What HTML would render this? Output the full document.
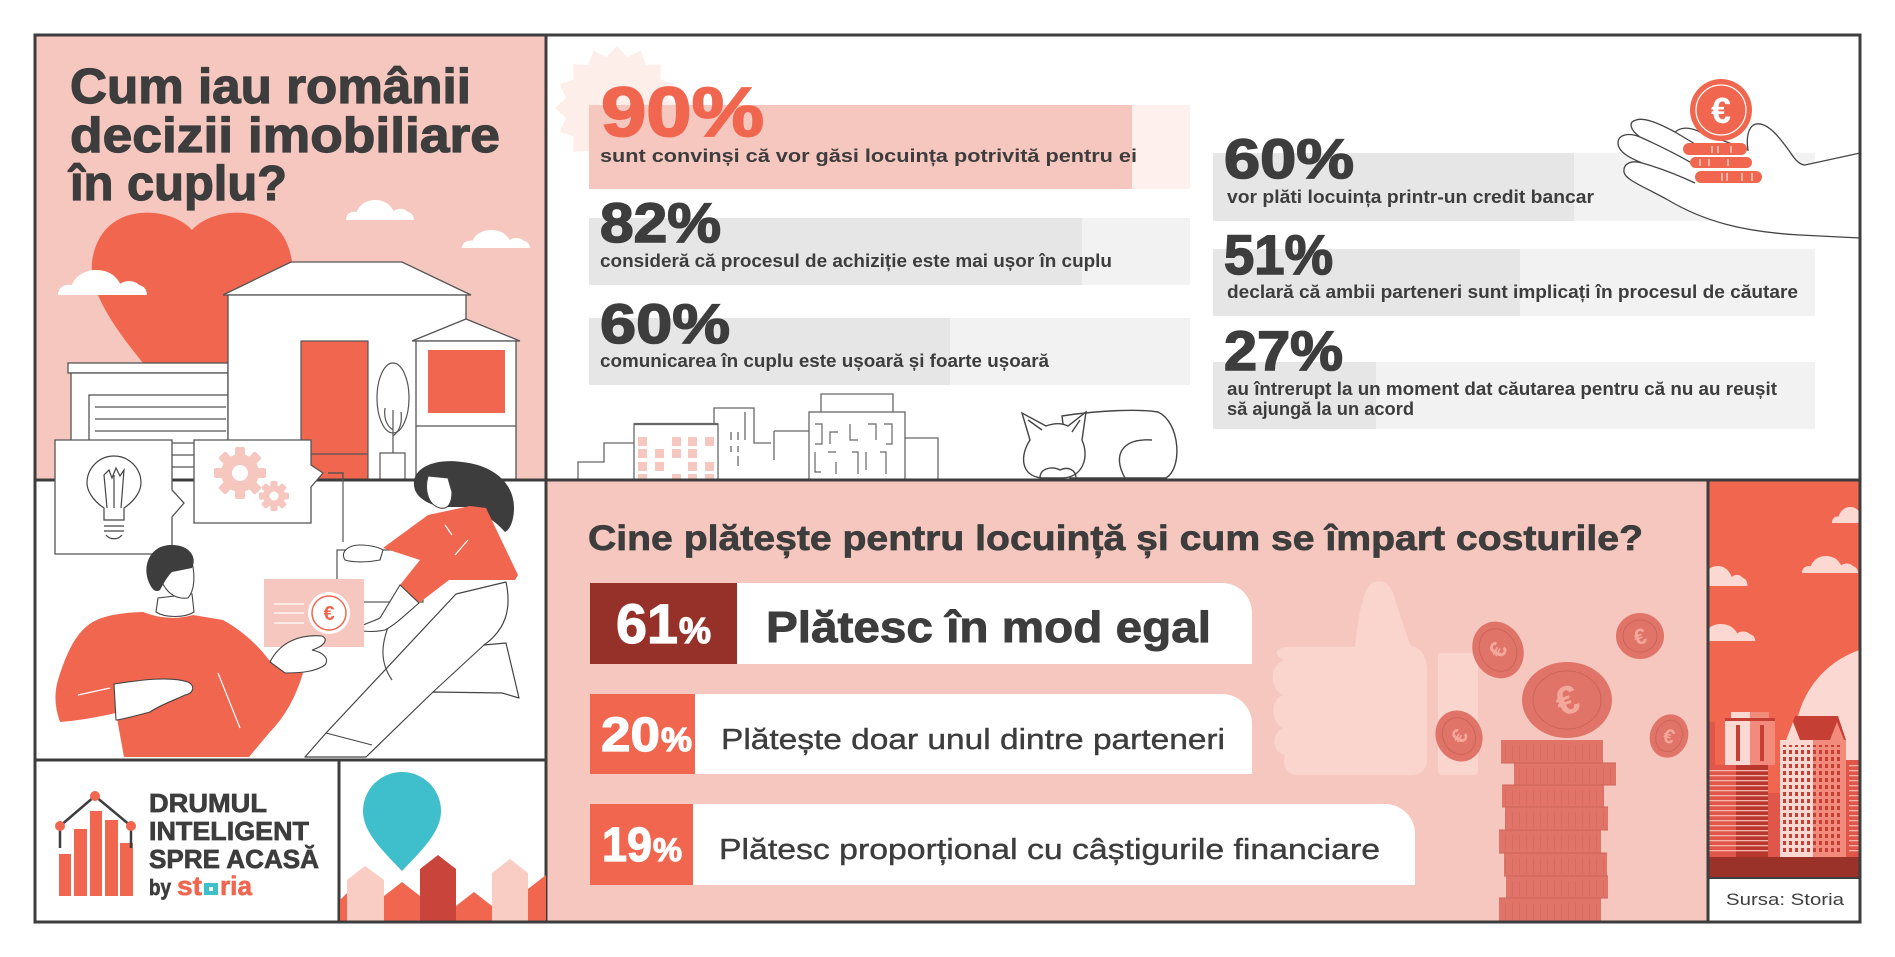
<!DOCTYPE html>
<html><head><meta charset="utf-8"><style>
html,body{margin:0;padding:0;background:#fff;}
svg{display:block;}
text{font-family:"Liberation Sans",Arial,sans-serif;}
</style></head><body>
<svg xmlns="http://www.w3.org/2000/svg" width="1895" height="957" viewBox="0 0 1895 957">
<defs>
<path id="cl" d="M0,20 C0,14 5,11 11,12 C14,4 22,0 30,0 C40,0 46,5 49,11 C53,8 60,8 64,12 C68,13 70,16 70,20 Z"/>
<clipPath id="strip"><rect x="1708" y="480" width="152" height="398"/></clipPath>
<clipPath id="tl"><rect x="35" y="35" width="511" height="445"/></clipPath>
<pattern id="win" width="6" height="7" patternUnits="userSpaceOnUse"><rect x="1" y="1" width="3" height="4" fill="#c63f35"/></pattern>
<pattern id="str" width="4" height="5" patternUnits="userSpaceOnUse"><rect width="4" height="1.3" fill="#f6b3a8"/></pattern>
<pattern id="coinl" width="7" height="30" patternUnits="userSpaceOnUse"><rect width="1" height="30" fill="#d4675b"/></pattern>
</defs>
<rect width="1895" height="957" fill="#fff"/>

<!-- ============ TOP LEFT PANEL ============ -->
<rect x="35" y="35" width="511" height="445" fill="#f6c7bf"/>
<g fill="#3d3d3d" stroke="#3d3d3d" stroke-width="1.2" font-weight="700" font-size="49">
<text x="70" y="103" textLength="401" lengthAdjust="spacingAndGlyphs">Cum iau românii</text>
<text x="70" y="152" textLength="430" lengthAdjust="spacingAndGlyphs">decizii imobiliare</text>
<text x="70" y="200" textLength="217" lengthAdjust="spacingAndGlyphs">în cuplu?</text>
</g>
<g clip-path="url(#tl)">
<use href="#cl" fill="#fff" transform="translate(346,200) scale(0.97,1)"/>
<use href="#cl" fill="#fff" transform="translate(462,230) scale(0.97,0.9)"/>
<path d="M192,230 C170,205 100,200 92,262 C88,300 130,350 192,420 C254,350 296,300 292,262 C284,200 214,205 192,230 Z" fill="#f0664f"/>
<use href="#cl" fill="#fff" transform="translate(58,270) scale(1.27,1.25)"/>
<g stroke="#555" stroke-width="1.3" fill="#fff">
<rect x="68" y="363" width="160" height="10"/>
<rect x="71" y="373" width="157" height="110"/>
<rect x="89" y="395" width="139" height="90"/>
<line x1="95" y1="407" x2="226" y2="407"/>
<line x1="95" y1="419" x2="226" y2="419"/>
<line x1="95" y1="431" x2="226" y2="431"/>
<line x1="95" y1="443" x2="226" y2="443"/>
<line x1="95" y1="455" x2="226" y2="455"/>
<line x1="95" y1="467" x2="226" y2="467"/>
<polygon points="223,295 291,262 402,262 471,295"/>
<rect x="228" y="295" width="238" height="190"/>
<polygon points="412,341 466,319 520,341"/>
<rect x="416" y="341" width="100" height="144"/>
<line x1="416" y1="426" x2="516" y2="426"/>
</g>
<rect x="301" y="341" width="67" height="140" fill="#f0664f" stroke="#555" stroke-width="1.2"/>
<line x1="301" y1="454" x2="368" y2="454" stroke="#555" stroke-width="1.2"/>
<polyline points="328,473 343,473 343,480" fill="none" stroke="#555" stroke-width="1.2"/>
<rect x="428" y="350" width="77" height="63" fill="#f0664f"/>
<ellipse cx="393" cy="398" rx="16" ry="35" fill="#fff" stroke="#555" stroke-width="1.2"/>
<path d="M393,410 V453 M393,430 C385,425 384,415 385,408 M393,436 C401,430 402,420 401,412" fill="none" stroke="#555" stroke-width="1.2"/>
<rect x="380" y="453" width="25" height="30" fill="#fff" stroke="#555" stroke-width="1.2"/>
</g>

<!-- ============ TOP RIGHT PANEL ============ -->
<polygon fill="#fdeeea" points="679,108 668,118.1 674.3,131.7 660.2,136.9 660.8,151.8 645.9,151.2 640.7,165.3 627.1,159 617,170 606.9,159 593.3,165.3 588.1,151.2 573.2,151.8 573.8,136.9 559.7,131.7 566,118.1 555,108 566,97.9 559.7,84.3 573.8,79.1 573.2,64.2 588.1,64.8 593.3,50.7 606.9,57 617,46 627.1,57 640.7,50.7 645.9,64.8 660.8,64.2 660.2,79.1 674.3,84.3 668,97.9"/>
<rect x="589" y="105" width="601" height="84" fill="#fdf0ed"/>
<rect x="589" y="105" width="543" height="84" fill="#f6c7bf"/>
<rect x="589" y="218" width="601" height="67" fill="#f2f2f2"/>
<rect x="589" y="218" width="493" height="67" fill="#e6e6e6"/>
<rect x="589" y="318" width="601" height="67" fill="#f2f2f2"/>
<rect x="589" y="318" width="361" height="67" fill="#e6e6e6"/>

<rect x="1213" y="153" width="602" height="68" fill="#f2f2f2"/>
<rect x="1213" y="153" width="361" height="68" fill="#e6e6e6"/>
<rect x="1213" y="249" width="602" height="67" fill="#f2f2f2"/>
<rect x="1213" y="249" width="307" height="67" fill="#e6e6e6"/>
<rect x="1213" y="362" width="602" height="67" fill="#f2f2f2"/>
<rect x="1213" y="362" width="163" height="67" fill="#e6e6e6"/>

<g font-weight="700">
<text x="601" y="136" font-size="70" fill="#f0664f" stroke="#f0664f" stroke-width="1.8" textLength="163" lengthAdjust="spacingAndGlyphs">90%</text>
<g fill="#3d3d3d">
<g stroke="#3d3d3d" stroke-width="1.6" font-size="56">
<text x="600" y="242" textLength="121" lengthAdjust="spacingAndGlyphs">82%</text>
<text x="600" y="343" textLength="130" lengthAdjust="spacingAndGlyphs">60%</text>
<text x="1224" y="178" textLength="130" lengthAdjust="spacingAndGlyphs">60%</text>
<text x="1224" y="274" textLength="109" lengthAdjust="spacingAndGlyphs">51%</text>
<text x="1224" y="370" textLength="119" lengthAdjust="spacingAndGlyphs">27%</text>
</g>
<g font-size="18">
<text x="600" y="162" textLength="537" lengthAdjust="spacingAndGlyphs">sunt convinși că vor găsi locuința potrivită pentru ei</text>
<text x="600" y="267" textLength="512" lengthAdjust="spacingAndGlyphs">consideră că procesul de achiziție este mai ușor în cuplu</text>
<text x="600" y="367" textLength="449" lengthAdjust="spacingAndGlyphs">comunicarea în cuplu este ușoară și foarte ușoară</text>
<text x="1227" y="203" textLength="367" lengthAdjust="spacingAndGlyphs">vor plăti locuința printr-un credit bancar</text>
<text x="1227" y="298" textLength="571" lengthAdjust="spacingAndGlyphs">declară că ambii parteneri sunt implicați în procesul de căutare</text>
<text x="1227" y="395" textLength="550" lengthAdjust="spacingAndGlyphs">au întrerupt la un moment dat căutarea pentru că nu au reușit</text>
<text x="1227" y="415" textLength="187" lengthAdjust="spacingAndGlyphs">să ajungă la un acord</text>
</g>
</g>
</g>

<!-- hand + coin -->
<g stroke="#444" stroke-width="1.3" fill="#fff">
<path d="M1860,238 L1800,235 C1745,232 1705,222 1668,200 C1645,187 1625,180 1624,172 C1623,163 1632,160 1642,163 C1630,158 1618,152 1618,143 C1618,135 1628,132 1640,137 C1630,130 1628,122 1636,120 C1645,117 1660,124 1675,132 C1680,128 1688,126 1700,132 L1748,150 C1746,138 1748,126 1756,124 C1768,122 1780,138 1790,152 C1795,160 1800,165 1805,165 L1860,153 Z"/>
<path d="M1642,163 C1660,168 1680,176 1695,183 M1640,137 C1660,146 1680,156 1695,165 M1675,132 C1685,138 1695,144 1705,150" fill="none"/>
</g>
<rect x="1683" y="143" width="64" height="12" rx="6" fill="#f0664f"/>
<rect x="1690" y="157" width="62" height="11" rx="5.5" fill="#f0664f"/>
<rect x="1695" y="171" width="67" height="12" rx="6" fill="#f0664f"/>
<g stroke="#fff" stroke-width="1">
<line x1="1712" y1="146" x2="1712" y2="153"/><line x1="1718" y1="146" x2="1718" y2="153"/><line x1="1731" y1="146" x2="1731" y2="153"/>
<line x1="1700" y1="159" x2="1700" y2="166"/><line x1="1709" y1="159" x2="1709" y2="166"/><line x1="1728" y1="159" x2="1728" y2="166"/>
<line x1="1722" y1="173" x2="1722" y2="181"/><line x1="1727" y1="173" x2="1727" y2="181"/><line x1="1742" y1="173" x2="1742" y2="181"/><line x1="1752" y1="173" x2="1752" y2="181"/>
</g>
<circle cx="1721" cy="110" r="31" fill="#f0664f"/>
<circle cx="1721" cy="110" r="25" fill="none" stroke="#fff" stroke-width="1.2"/>
<text x="1721" y="123" font-size="36" font-weight="700" fill="#fff" text-anchor="middle">€</text>

<!-- city line art -->
<g stroke="#666" stroke-width="1.3" fill="none">
<polyline points="578,480 578,462 604,462 604,443 634,443"/>
<polyline points="714,424 714,408 754,408 754,443 771,443"/>
<line x1="774" y1="431" x2="774" y2="460"/>
<polyline points="774,431 809,431"/>
<line x1="731" y1="432" x2="731" y2="440"/><line x1="738" y1="432" x2="738" y2="440"/><line x1="745" y1="412" x2="745" y2="440"/>
<line x1="731" y1="446" x2="731" y2="452"/><line x1="738" y1="446" x2="738" y2="452"/><line x1="738" y1="456" x2="738" y2="466"/>
<polyline points="821,412 821,394 893,394 893,412"/>
<polyline points="905,438 938,438 938,480"/>
</g>
<rect x="634" y="424" width="84" height="60" fill="#fff" stroke="#666" stroke-width="1.3"/>
<line x1="634" y1="424" x2="718" y2="424" stroke="#666" stroke-width="2.2"/>
<g fill="#f6c7bf">
<rect x="638" y="437" width="9" height="9"/><rect x="672" y="437" width="9" height="9"/><rect x="688" y="437" width="9" height="9"/><rect x="705" y="437" width="9" height="9"/>
<rect x="638" y="449" width="9" height="9"/><rect x="655" y="449" width="9" height="9"/><rect x="672" y="449" width="9" height="9"/><rect x="688" y="449" width="9" height="9"/>
<rect x="638" y="462" width="9" height="9"/><rect x="655" y="462" width="9" height="9"/><rect x="688" y="462" width="9" height="9"/><rect x="705" y="462" width="9" height="9"/>
<rect x="638" y="474" width="9" height="5"/><rect x="672" y="474" width="9" height="5"/><rect x="688" y="474" width="9" height="5"/><rect x="705" y="474" width="9" height="5"/>
</g>
<rect x="809" y="412" width="96" height="72" fill="#fff" stroke="#666" stroke-width="1.3"/>
<g stroke="#666" stroke-width="1.2" fill="none">
<path d="M815,424 H822 V444 H815 M830,444 V432 H838 M850,424 V440 H858 M868,424 H876 V440 M884,424 H892 V444 H886"/>
<path d="M815,452 V472 H821 M828,452 H836 M836,462 V474 M852,452 H858 V474 M866,452 V470 M880,452 H886 V474"/>
</g>
<!-- cat -->
<g stroke="#444" stroke-width="1.4" fill="#fff">
<path d="M1062,416 C1100,410 1140,409 1158,412 C1180,422 1183,468 1166,478 L1070,478 Z"/>
<path d="M1030,440 L1022,413 L1046,426 C1054,423 1062,423 1068,426 L1086,412 L1082,440 C1090,458 1082,478 1062,478 L1042,478 C1020,476 1020,455 1030,440 Z"/>
<path d="M1028,420 L1042,430 M1080,420 L1072,432" fill="none"/>
<path d="M1125,478 C1112,455 1122,438 1152,440" fill="none"/>
<path d="M1040,478 C1040,468 1052,466 1060,470 C1068,466 1076,470 1076,478" fill="none"/>
</g>

<!-- ============ BOTTOM MIDDLE PANEL ============ -->
<rect x="546" y="480" width="1162" height="442" fill="#f6c7bf"/>
<text x="588" y="550" font-size="35" font-weight="700" fill="#3d3d3d" stroke="#3d3d3d" stroke-width="0.7" textLength="1055" lengthAdjust="spacingAndGlyphs">Cine plătește pentru locuință și cum se împart costurile?</text>

<!-- thumbs up -->
<g fill="#f9d5ce">
<path d="M1290,647 L1355,647 C1358,620 1362,590 1372,583 C1384,578 1392,585 1395,600 L1410,645 C1425,650 1428,660 1427,680 L1427,760 C1427,770 1420,775 1410,775 L1300,775 C1285,775 1282,765 1285,755 C1272,752 1270,735 1283,728 C1270,722 1270,700 1283,695 C1270,690 1268,665 1285,660 C1272,655 1275,647 1290,647 Z"/>
<rect x="1438" y="653" width="40" height="122" rx="4"/>
</g>

<!-- pills -->
<path d="M737,583 H1222 A30,30 0 0 1 1252,613 V664 H737 Z" fill="#fff"/>
<rect x="590" y="583" width="147" height="81" fill="#953129"/>
<path d="M695,694 H1222 A30,30 0 0 1 1252,724 V774 H695 Z" fill="#fff"/>
<rect x="590" y="694" width="105" height="80" fill="#f0664f"/>
<path d="M693,804 H1385 A30,30 0 0 1 1415,834 V885 H693 Z" fill="#fff"/>
<rect x="590" y="804" width="103" height="81" fill="#f0664f"/>
<g font-weight="700" fill="#fff" stroke="#fff" stroke-width="1.2">
<text x="616" y="643" font-size="56" textLength="62" lengthAdjust="spacingAndGlyphs">61</text>
<text x="679" y="643" font-size="36" textLength="32" lengthAdjust="spacingAndGlyphs">%</text>
<text x="601" y="751" font-size="48" textLength="59" lengthAdjust="spacingAndGlyphs">20</text>
<text x="661" y="751" font-size="33" textLength="31" lengthAdjust="spacingAndGlyphs">%</text>
<text x="602" y="861" font-size="48" textLength="50" lengthAdjust="spacingAndGlyphs">19</text>
<text x="653" y="861" font-size="32" textLength="29" lengthAdjust="spacingAndGlyphs">%</text>
</g>
<text x="766" y="642" font-size="44" font-weight="700" fill="#3d3d3d" stroke="#3d3d3d" stroke-width="0.9" textLength="445" lengthAdjust="spacingAndGlyphs">Plătesc în mod egal</text>
<text x="721" y="749" font-size="29" fill="#3d3d3d" stroke="#3d3d3d" stroke-width="0.4" textLength="504" lengthAdjust="spacingAndGlyphs">Plătește doar unul dintre parteneri</text>
<text x="719" y="859" font-size="29" fill="#3d3d3d" stroke="#3d3d3d" stroke-width="0.4" textLength="661" lengthAdjust="spacingAndGlyphs">Plătesc proporțional cu câștigurile financiare</text>

<!-- coins -->
<g fill="#e07468">
<ellipse cx="1498" cy="650" rx="25" ry="29" transform="rotate(-25 1498 650)"/>
<ellipse cx="1640" cy="636" rx="24" ry="23"/>
<ellipse cx="1459" cy="736" rx="23" ry="26" transform="rotate(-25 1459 736)"/>
<ellipse cx="1669" cy="736" rx="19" ry="22" transform="rotate(20 1669 736)"/>
<ellipse cx="1567" cy="700" rx="45" ry="38"/>
<rect x="1501" y="740" width="102" height="23"/>
<rect x="1514" y="763" width="102" height="22"/>
<rect x="1502" y="785" width="102" height="22"/>
<rect x="1505" y="807" width="103" height="23"/>
<rect x="1499" y="830" width="102" height="23"/>
<rect x="1504" y="853" width="103" height="23"/>
<rect x="1506" y="876" width="102" height="22"/>
<rect x="1499" y="898" width="102" height="24"/>
</g>
<g fill="url(#coinl)" opacity="0.6">
<rect x="1501" y="745" width="102" height="16"/><rect x="1514" y="768" width="102" height="15"/>
<rect x="1502" y="790" width="102" height="15"/><rect x="1505" y="812" width="103" height="16"/>
<rect x="1499" y="835" width="102" height="16"/><rect x="1504" y="858" width="103" height="16"/>
<rect x="1506" y="881" width="102" height="15"/><rect x="1499" y="903" width="102" height="17"/>
</g>
<g stroke="#cc6458" stroke-width="1" fill="none">
<line x1="1501" y1="763" x2="1616" y2="763"/><line x1="1502" y1="785" x2="1616" y2="785"/>
<line x1="1502" y1="807" x2="1608" y2="807"/><line x1="1499" y1="830" x2="1608" y2="830"/>
<line x1="1499" y1="853" x2="1607" y2="853"/><line x1="1504" y1="876" x2="1608" y2="876"/>
<line x1="1499" y1="898" x2="1608" y2="898"/>
<ellipse cx="1567" cy="700" rx="34" ry="29"/>
<ellipse cx="1498" cy="650" rx="18" ry="22" transform="rotate(-25 1498 650)"/>
<ellipse cx="1640" cy="636" rx="17" ry="16"/>
<ellipse cx="1459" cy="736" rx="16" ry="19" transform="rotate(-25 1459 736)"/>
<ellipse cx="1669" cy="736" rx="13" ry="16" transform="rotate(20 1669 736)"/>
</g>
<g fill="#f4a89c" font-weight="700" text-anchor="middle">
<text x="1567" y="714" font-size="40" transform="rotate(-20 1567 700)">€</text>
<text x="1498" y="658" font-size="24" transform="rotate(-60 1498 650)">€</text>
<text x="1640" y="644" font-size="22" transform="rotate(-15 1640 636)">€</text>
<text x="1459" y="744" font-size="22" transform="rotate(-60 1459 736)">€</text>
<text x="1669" y="743" font-size="20" transform="rotate(15 1669 736)">€</text>
</g>

<!-- ============ RIGHT STRIP ============ -->
<g clip-path="url(#strip)">
<rect x="1708" y="480" width="152" height="398" fill="#f0664f"/>
<circle cx="1890" cy="740" r="95" fill="#fbd9d2"/>
<g fill="#fbd9d2">
<use href="#cl" transform="translate(1832,507) scale(0.6,0.8)"/>
<use href="#cl" transform="translate(1802,556) scale(0.8,0.85)"/>
<use href="#cl" transform="translate(1695,566) scale(0.75,1)"/>
<use href="#cl" transform="translate(1695,624) scale(0.86,0.85)"/>
</g>
<rect x="1709" y="722" width="6" height="43" fill="#e0564a"/>
<rect x="1731" y="712" width="19" height="8" fill="#fbd9d2"/>
<rect x="1750" y="712" width="19" height="8" fill="#f28b7b"/>
<rect x="1725" y="718" width="50" height="3" fill="#c63f35"/>
<rect x="1725" y="721" width="25" height="44" fill="#fbd9d2"/>
<rect x="1750" y="721" width="25" height="44" fill="#f28b7b"/>
<rect x="1736" y="725" width="4" height="36" fill="#c63f35"/>
<rect x="1760" y="725" width="4" height="36" fill="#c63f35"/>
<rect x="1709" y="765" width="27" height="92" fill="#e0564a"/>
<rect x="1736" y="765" width="32" height="92" fill="#b8382f"/>
<rect x="1709" y="768" width="59" height="86" fill="url(#str)"/>
<rect x="1768" y="793" width="12" height="64" fill="#e0564a"/>
<polygon points="1786,740 1795,716 1838,716 1846,740" fill="#c63f35"/>
<polygon points="1786,740 1793,722 1800,740" fill="#fbd9d2"/>
<polygon points="1830,740 1837,722 1844,740" fill="#f28b7b"/>
<rect x="1780" y="740" width="33" height="117" fill="#fbd9d2"/>
<rect x="1813" y="740" width="33" height="117" fill="#f28b7b"/>
<rect x="1783" y="745" width="60" height="108" fill="url(#win)"/>
<rect x="1846" y="760" width="14" height="97" fill="#e0564a"/>
<rect x="1849" y="763" width="11" height="90" fill="url(#str)"/>
<rect x="1708" y="857" width="152" height="21" fill="#9b3229"/>
</g>
<rect x="1708" y="878" width="152" height="44" fill="#fff"/>
<text x="1726" y="905" font-size="17" fill="#3d3d3d" textLength="118" lengthAdjust="spacingAndGlyphs">Sursa: Storia</text>

<!-- ============ INTERNAL LINES ============ -->
<g stroke="#3d3d3d" stroke-width="3" fill="none">
<line x1="546" y1="35" x2="546" y2="922"/>
<line x1="35" y1="480" x2="1860" y2="480"/>
<line x1="1708" y1="480" x2="1708" y2="922"/>
<line x1="35" y1="760" x2="546" y2="760"/>
<line x1="339" y1="760" x2="339" y2="922"/>
<line x1="1708" y1="878" x2="1860" y2="878" stroke-width="2"/>
</g>

<!-- ============ BOTTOM LEFT ILLUSTRATION ============ -->
<g stroke="#555" stroke-width="1.3">
<path d="M55,440 H172 V490 L184,503 L172,517 V554 H55 Z" fill="#fff"/>
<path d="M194,440 H311 V465 L323,473 L311,487 V523 H194 Z" fill="#fff"/>
</g>
<g stroke="#444" stroke-width="1.2" fill="none">
<path d="M104,508 C92,500 87,490 87,483 A27,27 0 1 1 141,483 C141,490 136,500 124,508 V520 H104 Z"/>
<path d="M107,508 L104,475 L109,470 L112,478 L116,468 L120,476 L124,470 L121,508 M114,475 V508"/>
<line x1="104" y1="526" x2="124" y2="526"/><line x1="104" y1="531" x2="124" y2="531"/>
<path d="M106,535 C110,540 118,540 122,535"/>
</g>
<g fill="#f6c7bf">
<g transform="translate(240,473)">
<circle r="19"/>
<rect x="-5" y="-26" width="10" height="10" rx="2"/>
<rect x="-5" y="-26" width="10" height="10" rx="2" transform="rotate(45)"/>
<rect x="-5" y="-26" width="10" height="10" rx="2" transform="rotate(90)"/>
<rect x="-5" y="-26" width="10" height="10" rx="2" transform="rotate(135)"/>
<rect x="-5" y="-26" width="10" height="10" rx="2" transform="rotate(180)"/>
<rect x="-5" y="-26" width="10" height="10" rx="2" transform="rotate(225)"/>
<rect x="-5" y="-26" width="10" height="10" rx="2" transform="rotate(270)"/>
<rect x="-5" y="-26" width="10" height="10" rx="2" transform="rotate(315)"/>
<circle r="8" fill="#fff"/>
</g>
<g transform="translate(274,496)">
<circle r="11"/>
<rect x="-3.5" y="-15" width="7" height="7" rx="1.5"/>
<rect x="-3.5" y="-15" width="7" height="7" rx="1.5" transform="rotate(45)"/>
<rect x="-3.5" y="-15" width="7" height="7" rx="1.5" transform="rotate(90)"/>
<rect x="-3.5" y="-15" width="7" height="7" rx="1.5" transform="rotate(135)"/>
<rect x="-3.5" y="-15" width="7" height="7" rx="1.5" transform="rotate(180)"/>
<rect x="-3.5" y="-15" width="7" height="7" rx="1.5" transform="rotate(225)"/>
<rect x="-3.5" y="-15" width="7" height="7" rx="1.5" transform="rotate(270)"/>
<rect x="-3.5" y="-15" width="7" height="7" rx="1.5" transform="rotate(315)"/>
<circle r="4.5" fill="#fff"/>
</g>
</g>
<polyline points="328,473 343,473 343,542" fill="none" stroke="#555" stroke-width="1.2"/>
<rect x="337" y="550" width="86" height="52" fill="#fff" stroke="#555" stroke-width="1.2"/>

<!-- woman -->
<path d="M415,490 C408,468 435,458 462,462 C492,465 514,482 514,508 C514,520 510,530 505,532 C495,520 480,512 465,507 L445,507 C432,506 419,500 415,490 Z" fill="#3d3d3d"/>
<path d="M428,476 C424,490 428,505 440,508 C450,510 452,500 452,492 L448,478 Z" fill="#fff" stroke="#444" stroke-width="1.1"/>
<!-- legs -->
<path d="M456,594 L506,582 C512,610 505,630 484,645 L506,643 L519,698 L502,693 L433,692 L366,757 L305,757 L326,733 Z" fill="#fff" stroke="#444" stroke-width="1.2" stroke-linejoin="round"/>
<path d="M484,645 L433,692 M392,617 C382,640 378,660 392,680 M326,733 L372,745" fill="none" stroke="#444" stroke-width="1.1"/>
<path d="M383,548 L428,515 L470,506 L486,508 L518,575 L515,580 L449,580 L419,603 L400,585 L420,560 Z" fill="#f0664f"/>
<path d="M400,585 L419,603 C405,615 395,625 385,630 C375,632 365,632 355,630 C360,625 372,622 380,618 Z" fill="#fff" stroke="#444" stroke-width="1.1"/>
<path d="M345,560 C340,552 348,545 360,545 C372,545 380,548 383,550 L380,560 C370,562 355,563 345,560 Z" fill="#fff" stroke="#444" stroke-width="1.1"/>
<path d="M455,555 L468,540 M445,525 L452,535" stroke="#fff" stroke-width="1.2"/>

<!-- man -->
<path d="M143,612 Q168,622 193,615 L223,620 Q250,635 269,660 L303,673 Q292,710 269,733 L249,757 L124,757 L116,713 Q85,720 60,722 Q52,700 58,680 Q70,640 86,627 Q100,613 143,612 Z" fill="#f0664f"/>
<path d="M158,598 L156,612 C165,618 185,618 194,612 L192,594 Z" fill="#fff" stroke="#444" stroke-width="1.1"/>
<path d="M158,565 C160,588 172,600 188,598 C195,590 195,575 192,562 Z" fill="#fff" stroke="#444" stroke-width="1.1"/>
<path d="M152,588 C140,570 148,546 170,545 C188,544 198,556 192,568 L172,572 C166,578 163,585 160,590 C157,592 154,591 152,588 Z" fill="#3d3d3d"/>
<path d="M114,684 C140,680 170,676 188,682 C196,686 193,694 185,695 C175,700 160,705 150,712 C135,716 120,720 116,720 Z" fill="#fff" stroke="#444" stroke-width="1.1"/>
<line x1="78" y1="695" x2="110" y2="688" stroke="#fff" stroke-width="1.2"/>
<line x1="218" y1="673" x2="240" y2="728" stroke="#fff" stroke-width="1.2"/>
<rect x="264" y="579" width="100" height="68" fill="#f6c7bf"/>
<g stroke="#fff" stroke-width="1.3"><line x1="274" y1="604" x2="304" y2="604"/><line x1="274" y1="613" x2="304" y2="613"/><line x1="274" y1="623" x2="304" y2="623"/></g>
<circle cx="329" cy="613" r="21" fill="#fff"/>
<circle cx="329" cy="613" r="17" fill="#fff" stroke="#f0664f" stroke-width="1.5"/>
<text x="329" y="620" font-size="20" font-weight="700" fill="#f0664f" text-anchor="middle">€</text>
<path d="M270,662 C280,642 300,634 322,636 C330,640 322,647 312,650 C322,652 330,658 325,665 C315,672 300,673 285,673 Z" fill="#fff" stroke="#444" stroke-width="1.1"/>

<!-- ============ LOGO BOX ============ -->
<g fill="#f0664f">
<rect x="59" y="854" width="12" height="42"/>
<rect x="74" y="829" width="13" height="67"/>
<rect x="90" y="811" width="12" height="85"/>
<rect x="105" y="820" width="13" height="76"/>
<rect x="120" y="843" width="13" height="53"/>
</g>
<g stroke="#3d3d3d" stroke-width="2.5" fill="none">
<polyline points="60,826 95,796 131,826"/>
<line x1="60" y1="826" x2="60" y2="848"/>
<line x1="131" y1="826" x2="131" y2="848"/>
</g>
<g fill="#f0664f"><circle cx="60" cy="826" r="5"/><circle cx="95" cy="796" r="5"/><circle cx="131" cy="826" r="5"/></g>
<g fill="#3d3d3d" stroke="#3d3d3d" stroke-width="0.7" font-weight="700" font-size="26">
<text x="149" y="812" textLength="118" lengthAdjust="spacingAndGlyphs">DRUMUL</text>
<text x="149" y="840" textLength="160" lengthAdjust="spacingAndGlyphs">INTELIGENT</text>
<text x="149" y="868" textLength="170" lengthAdjust="spacingAndGlyphs">SPRE ACASĂ</text>
<text x="149" y="895" font-size="22" textLength="22" lengthAdjust="spacingAndGlyphs">by</text>
</g>
<text x="177" y="895" font-size="27" font-weight="700" fill="#f0664f" stroke="#f0664f" stroke-width="0.6" textLength="25" lengthAdjust="spacingAndGlyphs">st</text>
<rect x="204" y="883" width="14" height="12" fill="#3fbecb"/>
<rect x="209" y="887" width="4" height="4" fill="#fff"/>
<text x="220" y="895" font-size="27" font-weight="700" fill="#f0664f" stroke="#f0664f" stroke-width="0.6" textLength="32" lengthAdjust="spacingAndGlyphs">ria</text>

<!-- ============ PIN BOX ============ -->
<g>
<polygon points="340,922 340,900 347,893 347,922" fill="#f0664f"/>
<polygon points="347,922 347,880 365,866 384,880 384,922" fill="#f9cdc4"/>
<polygon points="384,922 384,896 402,882 420,896 420,922" fill="#f0664f"/>
<polygon points="420,922 420,869 438,855 456,869 456,922" fill="#c9443a"/>
<polygon points="456,922 456,906 474,892 492,906 492,922" fill="#f0664f"/>
<polygon points="492,922 492,873 510,859 528,873 528,922" fill="#f9cdc4"/>
<polygon points="528,922 528,889 546,875 546,922" fill="#f0664f"/>
</g>
<path d="M402,871 C382,850 363,832 363,811 A39,39 0 1 1 441,811 C441,832 422,850 402,871 Z" fill="#3fbecb"/>

<rect x="35" y="35" width="1825" height="887" fill="none" stroke="#3d3d3d" stroke-width="3"/>
</svg>
</body></html>
